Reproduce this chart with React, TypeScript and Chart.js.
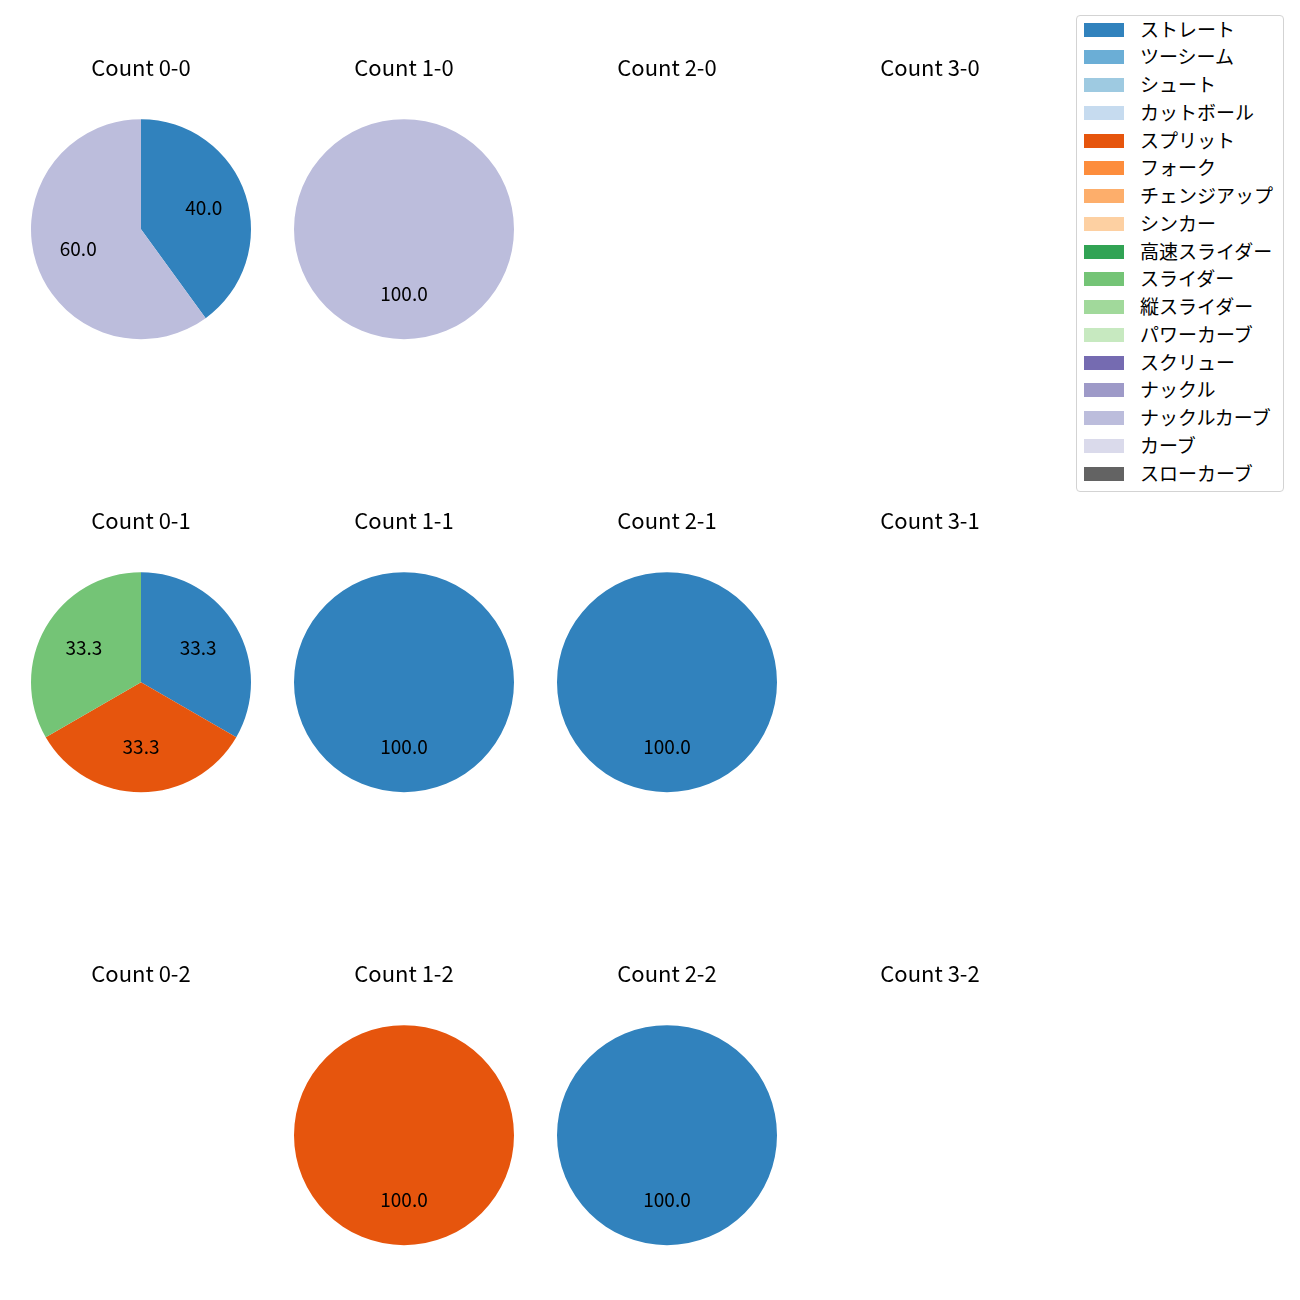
import React, { useEffect, useRef } from "react";
import { Chart, registerables } from "chart.js";

Chart.register(...registerables);

const FONT = '"Noto Sans CJK JP", "Noto Sans", sans-serif';

const pitchTypes = [
  "ストレート", "ツーシーム", "シュート", "カットボール", "スプリット", "フォーク",
  "チェンジアップ", "シンカー", "高速スライダー", "スライダー", "縦スライダー",
  "パワーカーブ", "スクリュー", "ナックル", "ナックルカーブ", "カーブ", "スローカーブ",
];

const pitchColors = [
  "#3182bd", "#6baed6", "#9ecae1", "#c6dbef", "#e6550d", "#fd8d3c",
  "#fdae6b", "#fdd0a2", "#31a354", "#74c476", "#a1d99b", "#c7e9c0",
  "#756bb1", "#9e9ac8", "#bcbddc", "#dadaeb", "#636363",
];

//                 St Tw Sh Ct Sp Fk Ch Si HS Sl VS PC Sc Kn KC Cv SC
const count_0_0 = [2, 0, 0, 0, 0, 0, 0, 0, 0, 0, 0, 0, 0, 0, 3, 0, 0];
const count_1_0 = [0, 0, 0, 0, 0, 0, 0, 0, 0, 0, 0, 0, 0, 0, 1, 0, 0];
const count_2_0 = [0, 0, 0, 0, 0, 0, 0, 0, 0, 0, 0, 0, 0, 0, 0, 0, 0];
const count_3_0 = [0, 0, 0, 0, 0, 0, 0, 0, 0, 0, 0, 0, 0, 0, 0, 0, 0];
const count_0_1 = [1, 0, 0, 0, 1, 0, 0, 0, 0, 1, 0, 0, 0, 0, 0, 0, 0];
const count_1_1 = [1, 0, 0, 0, 0, 0, 0, 0, 0, 0, 0, 0, 0, 0, 0, 0, 0];
const count_2_1 = [1, 0, 0, 0, 0, 0, 0, 0, 0, 0, 0, 0, 0, 0, 0, 0, 0];
const count_3_1 = [0, 0, 0, 0, 0, 0, 0, 0, 0, 0, 0, 0, 0, 0, 0, 0, 0];
const count_0_2 = [0, 0, 0, 0, 0, 0, 0, 0, 0, 0, 0, 0, 0, 0, 0, 0, 0];
const count_1_2 = [0, 0, 0, 0, 1, 0, 0, 0, 0, 0, 0, 0, 0, 0, 0, 0, 0];
const count_2_2 = [1, 0, 0, 0, 0, 0, 0, 0, 0, 0, 0, 0, 0, 0, 0, 0, 0];
const count_3_2 = [0, 0, 0, 0, 0, 0, 0, 0, 0, 0, 0, 0, 0, 0, 0, 0, 0];

const panels = [
  { title: "Count 0-0", values: count_0_0, col: 0, row: 0 },
  { title: "Count 1-0", values: count_1_0, col: 1, row: 0 },
  { title: "Count 2-0", values: count_2_0, col: 2, row: 0 },
  { title: "Count 3-0", values: count_3_0, col: 3, row: 0 },
  { title: "Count 0-1", values: count_0_1, col: 0, row: 1 },
  { title: "Count 1-1", values: count_1_1, col: 1, row: 1 },
  { title: "Count 2-1", values: count_2_1, col: 2, row: 1 },
  { title: "Count 3-1", values: count_3_1, col: 3, row: 1 },
  { title: "Count 0-2", values: count_0_2, col: 0, row: 2 },
  { title: "Count 1-2", values: count_1_2, col: 1, row: 2 },
  { title: "Count 2-2", values: count_2_2, col: 2, row: 2 },
  { title: "Count 3-2", values: count_3_2, col: 3, row: 2 },
];

const colCenters = [141, 404, 667, 930];
const rowCenters = [229, 682, 1135];
const R = 110;
const CANVAS_W = 240;
const TITLE_SIZE = 22;
const TITLE_LINE = TITLE_SIZE * 1.2;
const TITLE_GAP = 52; // title center to pie top
const TITLE_PAD_BOTTOM = TITLE_GAP - TITLE_LINE / 2;
const TITLE_BLOCK = TITLE_LINE + TITLE_PAD_BOTTOM;
const CANVAS_H = Math.ceil(TITLE_BLOCK + 2 * R + 4);

const pctLabelPlugin = {
  id: "pctLabels",
  afterDatasetsDraw(chart: any) {
    const data = chart.data.datasets[0].data as number[];
    const total = data.reduce((a: number, b: number) => a + b, 0);
    if (!total) return;
    const meta = chart.getDatasetMeta(0);
    const ctx = chart.ctx;
    ctx.save();
    ctx.font = `19px ${FONT}`;
    ctx.fillStyle = "#000";
    ctx.textAlign = "center";
    ctx.textBaseline = "middle";
    meta.data.forEach((arc: any, i: number) => {
      const v = data[i];
      if (!v) return;
      const p = arc.getProps(["x", "y", "startAngle", "endAngle", "outerRadius"], true);
      const mid = (p.startAngle + p.endAngle) / 2;
      const r = p.outerRadius * 0.6;
      ctx.fillText(((v / total) * 100).toFixed(1), p.x + Math.cos(mid) * r, p.y + Math.sin(mid) * r - 1);
    });
    ctx.restore();
  },
};

function PiePanel({ title, values, col, row }: { title: string; values: number[]; col: number; row: number }) {
  const ref = useRef<HTMLCanvasElement>(null);
  useEffect(() => {
    if (!ref.current) return;
    const chart = new Chart(ref.current, {
      type: "pie",
      data: {
        labels: pitchTypes,
        datasets: [
          {
            data: values,
            backgroundColor: pitchColors,
            borderWidth: 0,
            hoverOffset: 0,
            offset: 0,
          },
        ],
      },
      options: {
        responsive: false,
        maintainAspectRatio: false,
        animation: false,
        events: [],
        layout: {
          padding: {
            left: (CANVAS_W - 2 * R) / 2,
            right: (CANVAS_W - 2 * R) / 2,
            top: 0,
            bottom: CANVAS_H - TITLE_BLOCK - 2 * R,
          },
        },
        plugins: {
          legend: { display: false },
          tooltip: { enabled: false },
          title: {
            display: true,
            text: title,
            color: "#000",
            font: { family: FONT, size: TITLE_SIZE, weight: "normal", lineHeight: 1.2 },
            padding: { top: 0, bottom: TITLE_PAD_BOTTOM },
          },
        },
      },
      plugins: [pctLabelPlugin],
    });
    return () => chart.destroy();
  }, [title, values]);
  const cx = colCenters[col];
  const cy = rowCenters[row];
  return (
    <canvas
      ref={ref}
      width={CANVAS_W}
      height={CANVAS_H}
      style={{
        position: "absolute",
        left: cx - CANVAS_W / 2,
        top: cy - R - TITLE_BLOCK,
        width: CANVAS_W,
        height: CANVAS_H,
      }}
    />
  );
}

function Legend() {
  const rowStep = 27.75;
  return (
    <div
      style={{
        position: "absolute",
        left: 1076,
        top: 15,
        width: 206,
        height: 475,
        border: "1px solid #d3d3d3",
        borderRadius: 4,
        background: "rgba(255,255,255,0.8)",
        fontFamily: FONT,
        fontSize: 19,
        color: "#000",
      }}
    >
      {pitchTypes.map((name, i) => {
        const cyy = 13.5 + i * rowStep;
        return (
          <div key={name}>
            <div
              style={{
                position: "absolute",
                left: 7,
                top: cyy - 7,
                width: 40,
                height: 14,
                background: pitchColors[i],
              }}
            />
            <div
              style={{
                position: "absolute",
                left: 63,
                top: cyy - 15,
                height: 28,
                lineHeight: "28px",
                whiteSpace: "nowrap",
              }}
            >
              {name}
            </div>
          </div>
        );
      })}
    </div>
  );
}

export default function App() {
  return (
    <div style={{ position: "absolute", left: 0, top: 0, width: 1300, height: 1300, background: "#fff" }}>
      {panels.map((p) => (
        <PiePanel key={p.title} {...p} />
      ))}
      <Legend />
    </div>
  );
}
